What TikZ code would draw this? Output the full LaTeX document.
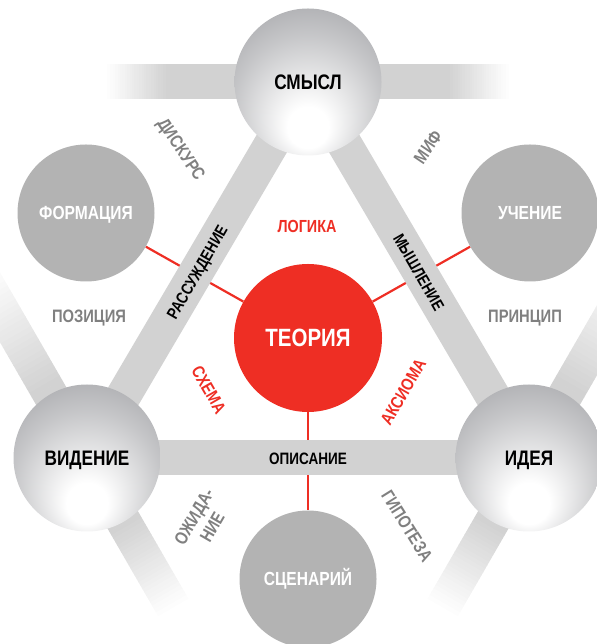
\documentclass[tikz,border=0pt]{standalone}
\usepackage{fontspec}
\setmainfont{Liberation Sans}[FakeStretch=0.82]
\usetikzlibrary{backgrounds}

\definecolor{bargray}{RGB}{210,210,210}
\definecolor{circgray}{RGB}{179,179,179}
\definecolor{labgray}{RGB}{128,128,128}
\definecolor{theored}{RGB}{238,46,36}
\definecolor{sphedge}{RGB}{128,129,134}
\pgfdeclareradialshading{sphereshade}{\pgfpoint{0bp}{-18bp}}{color(0bp)=(white); color(7bp)=(white); color(25bp)=(sphedge!45); color(41bp)=(sphedge!80); color(50bp)=(sphedge)}

\begin{document}
\begin{tikzpicture}[x=1pt, y=1pt,
    sphere/.style={circle, minimum size=147pt, inner sep=0pt, shade, shading=sphereshade,
      font=\fontsize{21}{24}\selectfont\bfseries, text height=15pt, text depth=0pt},
    satellite/.style={circle, fill=circgray, minimum size=137pt, inner sep=0pt, text=white,
      font=\fontsize{19}{22}\selectfont\bfseries, text height=13.6pt, text depth=0pt},
    theory/.style={circle, fill=theored, minimum size=148pt, inner sep=0pt, text=white,
      font=\fontsize{25}{28}\selectfont\bfseries, text height=17.9pt, text depth=0pt},
    barlabel/.style={font=\fontsize{16.5}{19}\selectfont\bfseries, text height=11.8pt, text depth=0pt},
    redlabel/.style={text=theored, font=\fontsize{17.5}{20}\selectfont\bfseries, text height=12.5pt, text depth=0pt},
    graylabel/.style={text=labgray, font=\fontsize{18}{21}\selectfont\bfseries, align=center},
    bar/.style={bargray, line width=35pt},
    redline/.style={theored, line width=2.2pt}]
    \useasboundingbox (0,0) rectangle (596,644);

    %big triangle
        \node[sphere] (S) at (308,562) {СМЫСЛ};
        \node[sphere] (V) at (87,186) {ВИДЕНИЕ};
        \node[sphere] (I) at (529,186) {ИДЕЯ};

    %theory and the three outer circles
        \node[theory] (T) at (308,306) {ТЕОРИЯ};
        \node[satellite] (F) at (86,431) {ФОРМАЦИЯ};
        \node[satellite] (U) at (530,431) {УЧЕНИЕ};
        \node[satellite] (C) at (308,65) {СЦЕНАРИЙ};

    %labels on the bars
        \node[barlabel] (opis) at (308,185) {ОПИСАНИЕ};
        \node[barlabel, rotate=60] (rass) at (197,372) {РАССУЖДЕНИЕ};
        \node[barlabel, rotate=-60] (mysh) at (419,372) {МЫШЛЕНИЕ};

    %red labels round theory
        \node[redlabel] (logic) at (307,418) {ЛОГИКА};
        \node[redlabel, rotate=-60] (schema) at (209,254) {СХЕМА};
        \node[redlabel, rotate=60] (axiom) at (403,252) {АКСИОМА};

    %gray labels outside
        \node[graylabel, rotate=-56] (disk) at (180,494) {ДИСКУРС};
        \node[graylabel, rotate=56] (myth) at (428,497) {МИФ};
        \node[graylabel] (pozic) at (89,326) {ПОЗИЦИЯ};
        \node[graylabel] (princ) at (525,326) {ПРИНЦИП};
        \node[graylabel, rotate=60] (expect) at (203,122) {ОЖИДА-\\НИЕ};
        \node[graylabel, rotate=-58] (hyp) at (407,118) {ГИПОТЕЗА};

    \begin{scope}[on background layer]
        %fading bars, drawn in thin steps
        \foreach \nd/\ang/\solid/\len in {S/0/140/200, S/180/140/200, V/120/80/210, V/-60/75/172, I/60/80/210, I/-120/75/172}{
            \begin{scope}[shift={(\nd.center)}, rotate=\ang]
                \fill[bargray] (0,-17.5) rectangle (\solid+0.5,17.5);
                \foreach \k in {0,...,24}{
                    \pgfmathsetmacro{\pct}{100-4*\k}
                    \pgfmathsetmacro{\xa}{\solid+(\len-\solid)*\k/25}
                    \pgfmathsetmacro{\xb}{\solid+(\len-\solid)*(\k+1)/25+0.6}
                    \fill[bargray!\pct!white] (\xa,-17.5) rectangle (\xb,17.5);
                }
            \end{scope}
        }
        %red spokes
        \draw[redline] (T) -- (F);
        \draw[redline] (T) -- (U);
        \draw[redline] (T) -- (C);
        %triangle bars
        \draw[bar] (S.center) -- (V.center);
        \draw[bar] (V.center) -- (I.center);
        \draw[bar] (I.center) -- (S.center);
    \end{scope}
\end{tikzpicture}
\end{document}
